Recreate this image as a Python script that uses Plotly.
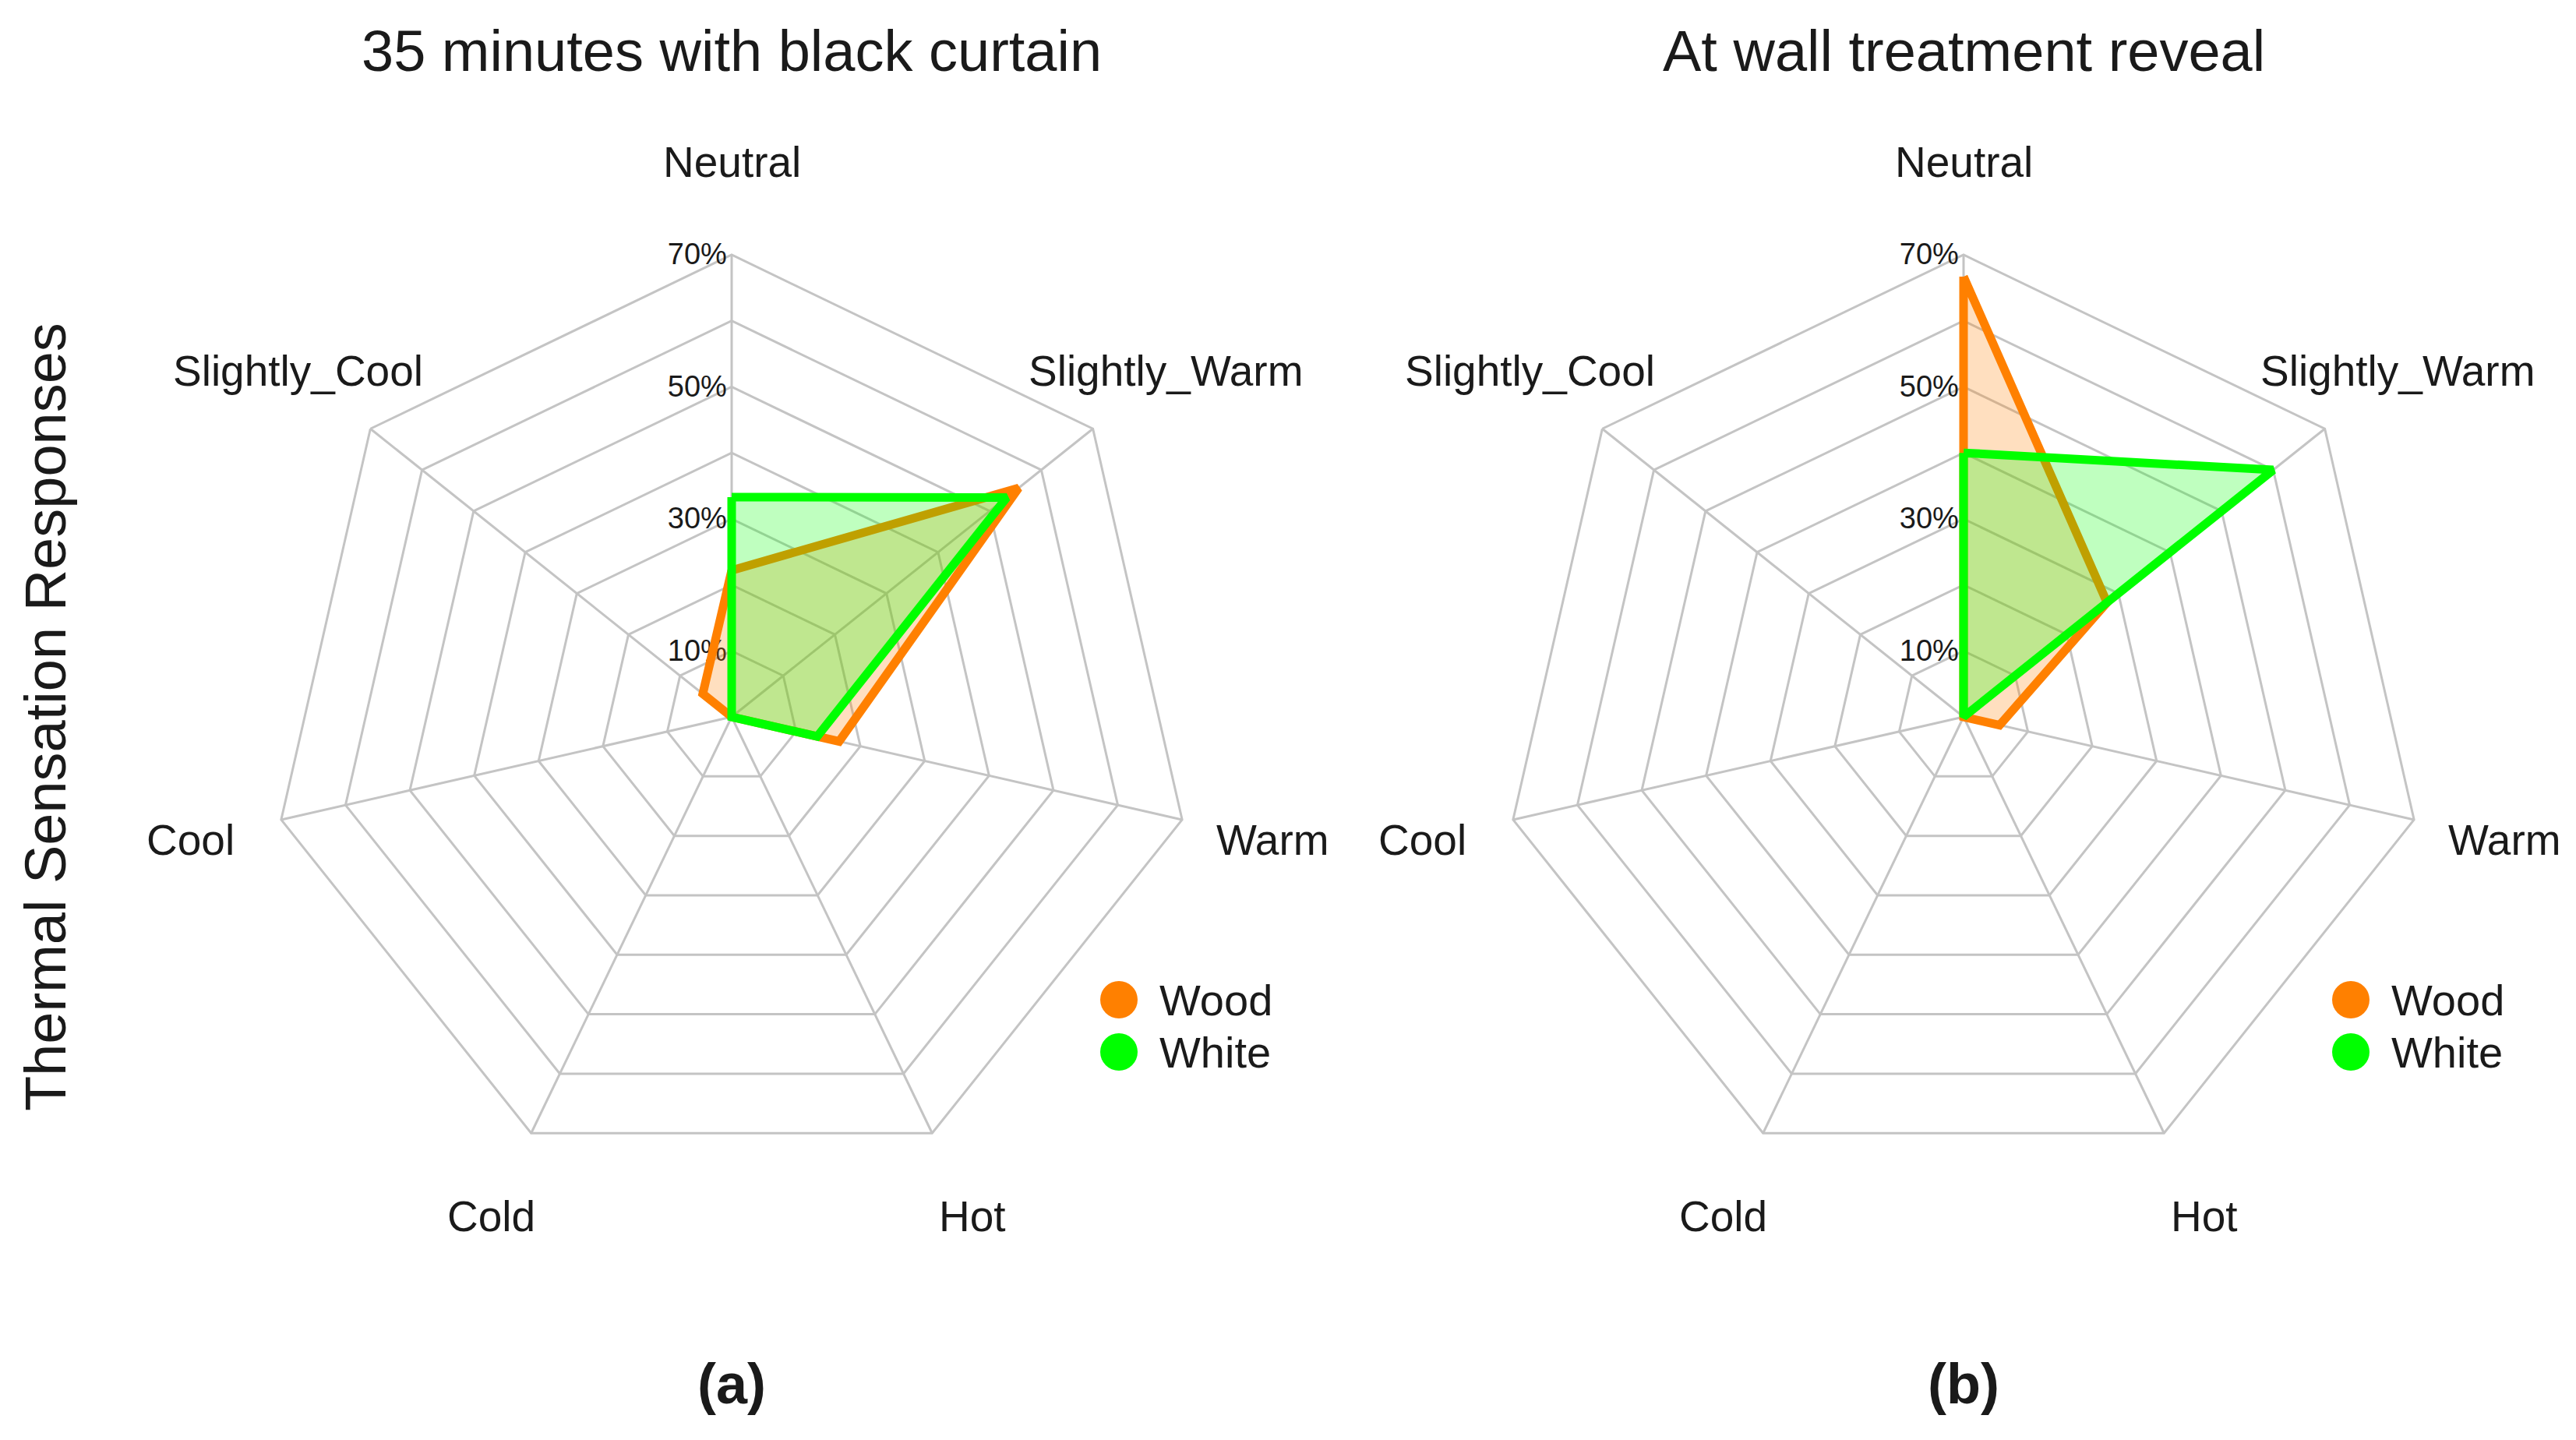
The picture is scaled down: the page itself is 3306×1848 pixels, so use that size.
import math
import plotly.graph_objects as go

# ---------------- data ----------------
categories = ["Neutral", "Slightly_Warm", "Warm", "Hot", "Cold", "Cool", "Slightly_Cool"]
wood_a = [22.2, 55.6, 16.7, 0, 0, 0, 5.6]
white_a = [33.3, 53.3, 13.3, 0, 0, 0, 0]
wood_b = [66.7, 27.8, 5.6, 0, 0, 0, 0]
white_b = [40.0, 60.0, 0, 0, 0, 0, 0]
series_names = ["Wood", "White"]
panel_titles = ["35 minutes with black curtain", "At wall treatment reveal"]
panel_tags = ["(a)", "(b)"]
radial_tickvals = [0, 10, 20, 30, 40, 50, 60, 70]
radial_ticktext = ["", "10%", "", "30%", "", "50%", "", "70%"]
y_title = "Thermal Sensation Responses"

# ---------------- style ----------------
W, H = 3306, 1848
OFF = 8  # page body margin
FONT = "Liberation Sans, Arial, Helvetica, sans-serif"
TXT = "#1a1a1a"
GRID = "#c4c4c4"
colors = {"Wood": "#ff8000", "White": "#00ff00"}
fills = {"Wood": "rgba(255,128,0,0.25)", "White": "rgba(0,255,0,0.25)"}

centers = [(939, 920), (2520, 920)]  # pixel centers of the two radar panels
R = 593
label_r = 712


def px2paper(x, y):
    return (x - OFF) / W, 1 - (y - OFF) / H


fig = go.Figure()
panels = [(wood_a, white_a), (wood_b, white_b)]
for i, (wood, white) in enumerate(panels):
    sub = "polar" if i == 0 else "polar2"
    for name, vals in zip(series_names, (wood, white)):
        fig.add_trace(go.Scatterpolar(
            r=vals + [vals[0]],
            theta=categories + [categories[0]],
            mode="lines",
            fill="toself",
            fillcolor=fills[name],
            line=dict(color=colors[name], width=11),
            name=name,
            showlegend=False,
            subplot=sub,
            hoverinfo="r+theta+name",
        ))

polar_common = dict(
    bgcolor="white",
    gridshape="linear",
    radialaxis=dict(
        range=[0, 70],
        tickvals=radial_tickvals,
        ticktext=radial_ticktext,
        angle=90,
        tickangle=90,
        side="counterclockwise",
        showline=False,
        ticks="",
        gridcolor=GRID,
        gridwidth=3,
        tickfont=dict(family=FONT, size=38, color=TXT),
        layer="below traces",
    ),
    angularaxis=dict(
        categoryorder="array",
        categoryarray=categories,
        direction="clockwise",
        rotation=90,
        showticklabels=False,
        ticks="",
        gridcolor=GRID,
        gridwidth=3,
        showline=True,
        linecolor=GRID,
        linewidth=3,
        layer="below traces",
    ),
)

domains = []
for cx, cy in centers:
    x0, y1 = px2paper(cx - R, cy - R)
    x1, y0 = px2paper(cx + R, cy + R)
    domains.append(dict(x=[x0, x1], y=[y0, y1]))

annotations = []
shapes = []
n = len(categories)
for i, (cx, cy) in enumerate(centers):
    # category labels around the web
    for k, cat in enumerate(categories):
        a = 2 * math.pi * k / n
        lx = cx + label_r * math.sin(a)
        ly = cy - label_r * math.cos(a)
        px, py = px2paper(lx, ly)
        annotations.append(dict(x=px, y=py, xref="paper", yref="paper", text=cat,
                                showarrow=False, xanchor="center", yanchor="middle",
                                font=dict(family=FONT, size=55, color=TXT)))
    # panel title
    px, py = px2paper(cx, 65)
    annotations.append(dict(x=px, y=py, xref="paper", yref="paper", text=panel_titles[i],
                            showarrow=False, xanchor="center", yanchor="middle",
                            font=dict(family=FONT, size=74, color=TXT)))
    # panel tag
    px, py = px2paper(cx, 1776)
    annotations.append(dict(x=px, y=py, xref="paper", yref="paper", text="<b>" + panel_tags[i] + "</b>",
                            showarrow=False, xanchor="center", yanchor="middle",
                            font=dict(family=FONT, size=72, color=TXT)))
    # legend
    for j, name in enumerate(series_names):
        lx, ly = cx + 497, 1283 + 67 * j
        px, py = px2paper(lx, ly)
        shapes.append(dict(type="circle", xref="paper", yref="paper",
                           xsizemode="pixel", ysizemode="pixel",
                           xanchor=px, yanchor=py, x0=-24, x1=24, y0=-24, y1=24,
                           fillcolor=colors[name], line=dict(width=0)))
        tx, ty = px2paper(lx + 50, ly)
        annotations.append(dict(x=tx, y=ty, xref="paper", yref="paper", text=name,
                                showarrow=False, xanchor="left", yanchor="middle",
                                font=dict(family=FONT, size=56, color=TXT)))

# y-axis style title
px, py = px2paper(59, 920)
annotations.append(dict(x=px, y=py, xref="paper", yref="paper", text=y_title, textangle=-90,
                        showarrow=False, xanchor="center", yanchor="middle",
                        font=dict(family=FONT, size=74, color=TXT)))

fig.update_layout(
    width=W, height=H,
    margin=dict(l=0, r=0, t=0, b=0),
    paper_bgcolor="white",
    plot_bgcolor="white",
    polar=dict(domain=domains[0], **polar_common),
    polar2=dict(domain=domains[1], **polar_common),
    annotations=annotations,
    shapes=shapes,
    showlegend=False,
)

fig.write_html("out.html")
